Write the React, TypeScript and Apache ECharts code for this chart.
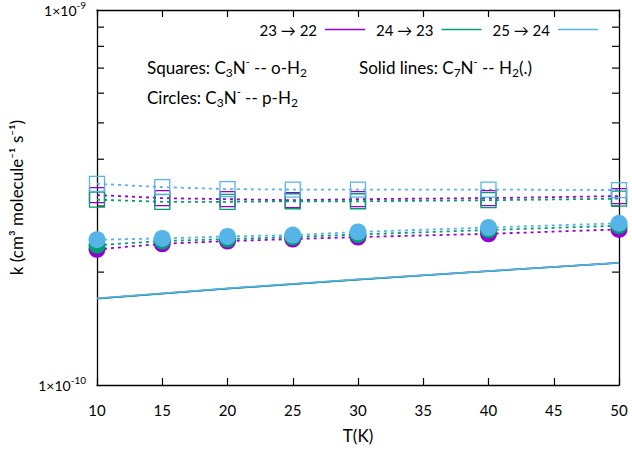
import { useEffect, useRef } from 'react';
import * as echarts from 'echarts';

// Temperatures (K) at which the rate coefficients are given
const temperatures = [10, 15, 20, 25, 30, 40, 50];
const transitions = ['23 → 22', '24 → 23', '25 → 24'];
const colors = ['#9400d3', '#009e73', '#56b4e9'];

// C7N- -- H2 (solid lines), cm3 molecule-1 s-1
const c7nH2_23_22 = [1.700e-10, 1.755e-10, 1.808e-10, 1.860e-10, 1.911e-10, 2.013e-10, 2.117e-10];
const c7nH2_24_23 = [1.697e-10, 1.752e-10, 1.805e-10, 1.857e-10, 1.908e-10, 2.010e-10, 2.114e-10];
const c7nH2_25_24 = [1.703e-10, 1.757e-10, 1.810e-10, 1.862e-10, 1.913e-10, 2.015e-10, 2.119e-10];

// C3N- -- o-H2 (squares)
const c3nOH2_23_22 = [3.21e-10, 3.15e-10, 3.13e-10, 3.11e-10, 3.13e-10, 3.15e-10, 3.19e-10];
const c3nOH2_24_23 = [3.12e-10, 3.08e-10, 3.08e-10, 3.09e-10, 3.09e-10, 3.11e-10, 3.14e-10];
const c3nOH2_25_24 = [3.44e-10, 3.37e-10, 3.33e-10, 3.32e-10, 3.32e-10, 3.32e-10, 3.31e-10];

// C3N- -- p-H2 (circles)
const c3nPH2_23_22 = [2.30e-10, 2.38e-10, 2.42e-10, 2.45e-10, 2.48e-10, 2.53e-10, 2.60e-10];
const c3nPH2_24_23 = [2.36e-10, 2.42e-10, 2.45e-10, 2.48e-10, 2.52e-10, 2.59e-10, 2.66e-10];
const c3nPH2_25_24 = [2.44e-10, 2.46e-10, 2.49e-10, 2.51e-10, 2.56e-10, 2.63e-10, 2.70e-10];

// Log-axis minor tick positions (2..9 x 1e-10)
const minorTickValues = [2e-10, 3e-10, 4e-10, 5e-10, 6e-10, 7e-10, 8e-10, 9e-10];

const solidSets = [c7nH2_23_22, c7nH2_24_23, c7nH2_25_24];
const squareSets = [c3nOH2_23_22, c3nOH2_24_23, c3nOH2_25_24];
const circleSets = [c3nPH2_23_22, c3nPH2_24_23, c3nPH2_25_24];

const FONT = 'Lato';

const pairs = (ys: number[]) => temperatures.map((t, i) => [t, ys[i]]);

const richText = {
  n: { fontFamily: FONT, fontSize: 17, lineHeight: 22, color: '#000' },
  sub: { fontFamily: FONT, fontSize: 12, lineHeight: 12, verticalAlign: 'bottom', color: '#000' },
  sup: { fontFamily: FONT, fontSize: 11, lineHeight: 12, verticalAlign: 'top', color: '#000' },
};

export default function App() {
  const ref = useRef<HTMLDivElement>(null);

  useEffect(() => {
    if (!ref.current) return;
    const chart = echarts.init(ref.current, null, { renderer: 'svg' });

    const series: any[] = [];
    for (let i = 0; i < 3; i++) {
      series.push({
        name: transitions[i],
        type: 'line',
        data: pairs(solidSets[i]),
        symbol: 'none',
        lineStyle: { color: colors[i], width: 1.5 },
        itemStyle: { color: colors[i] },
        emphasis: { disabled: true },
      });
      series.push({
        name: 'oH2 ' + transitions[i],
        type: 'line',
        data: pairs(squareSets[i]),
        symbol: 'rect',
        symbolSize: 15,
        lineStyle: { color: colors[i], width: 1.8, type: [3, 4] },
        itemStyle: { color: 'rgba(0,0,0,0)', borderColor: colors[i], borderWidth: 1.3 },
        emphasis: { disabled: true },
      });
      series.push({
        name: 'pH2 ' + transitions[i],
        type: 'line',
        data: pairs(circleSets[i]),
        symbol: 'circle',
        symbolSize: 17,
        lineStyle: { color: colors[i], width: 1.8, type: [3, 4] },
        itemStyle: { color: colors[i], borderWidth: 0 },
        emphasis: { disabled: true },
      });
    }

    const frame = { show: true, onZero: false, lineStyle: { color: '#000', width: 1.3 } };

    chart.setOption({
      animation: false,
      grid: { left: 97, right: 13, top: 10, bottom: 68, containLabel: false },
      legend: {
        data: transitions.map((name) => ({ name, icon: 'rect' })),
        right: 29,
        top: 17,
        align: 'right',
        itemWidth: 40,
        itemHeight: 1.5,
        itemGap: 11,
        selectedMode: false,
        textStyle: { fontFamily: FONT, fontSize: 15, color: '#000', padding: [0, 3, 0, 0] },
      },
      xAxis: [
        {
          type: 'value',
          min: 10,
          max: 50,
          interval: 5,
          name: 'T(K)',
          nameLocation: 'middle',
          nameGap: 42,
          nameTextStyle: { fontFamily: FONT, fontSize: 17, color: '#000' },
          axisLine: frame,
          axisTick: { inside: true, length: 7, lineStyle: { color: '#000', width: 1.2 } },
          axisLabel: { margin: 17, fontFamily: FONT, fontSize: 15, color: '#000' },
          splitLine: { show: false },
        },
        {
          type: 'value',
          position: 'top',
          min: 10,
          max: 50,
          interval: 5,
          axisLine: frame,
          axisTick: { inside: true, length: 7, lineStyle: { color: '#000', width: 1.2 } },
          axisLabel: { show: false },
          splitLine: { show: false },
        },
      ],
      yAxis: [
        {
          type: 'log',
          logBase: 10,
          min: 1e-10,
          max: 1e-9,
          name: 'k (cm³ molecule⁻¹ s⁻¹)',
          nameLocation: 'middle',
          nameGap: 72,
          nameTextStyle: { fontFamily: FONT, fontSize: 17, color: '#000' },
          axisLine: frame,
          axisTick: { show: false },
          splitLine: { show: false },
          axisLabel: {
            margin: 11,
            formatter: (v: number) =>
              v > 5e-10 ? '{a|1×10}{s|-9}' : '{a|1×10}{s|-10}',
            rich: {
              a: { fontFamily: FONT, fontSize: 14, lineHeight: 20, color: '#000' },
              s: { fontFamily: FONT, fontSize: 10, lineHeight: 10, verticalAlign: 'top', color: '#000' },
            },
          },
        },
        {
          type: 'log',
          logBase: 10,
          min: 1e-10,
          max: 1e-9,
          position: 'right',
          axisLine: frame,
          axisTick: { show: false },
          axisLabel: { show: false },
          splitLine: { show: false },
        },
      ],
      series,
    });

    // Inward minor ticks on both vertical sides of the frame
    const xl = chart.convertToPixel({ xAxisIndex: 0 }, 10) as number;
    const xr = chart.convertToPixel({ xAxisIndex: 0 }, 50) as number;
    const tickElems: any[] = [];
    minorTickValues.forEach((v) => {
      const y = chart.convertToPixel({ yAxisIndex: 0 }, v) as number;
      tickElems.push({ type: 'line', shape: { x1: xl, y1: y, x2: xl + 7, y2: y }, style: { stroke: '#000', lineWidth: 1.2 } });
      tickElems.push({ type: 'line', shape: { x1: xr - 7, y1: y, x2: xr, y2: y }, style: { stroke: '#000', lineWidth: 1.2 } });
    });

    chart.setOption({
      graphic: [
        ...tickElems,
        {
          type: 'text',
          left: 147,
          top: 56,
          style: { text: '{n|Squares: C}{sub|3}{n|N}{sup|-}{n| -- o-H}{sub|2}', rich: richText },
        },
        {
          type: 'text',
          left: 147,
          top: 86,
          style: { text: '{n|Circles: C}{sub|3}{n|N}{sup|-}{n| -- p-H}{sub|2}', rich: richText },
        },
        {
          type: 'text',
          left: 359,
          top: 56,
          style: { text: '{n|Solid lines: C}{sub|7}{n|N}{sup|-}{n| -- H}{sub|2}{n|(.)}', rich: richText },
        },
      ],
    });

    return () => chart.dispose();
  }, []);

  return (
    <div
      ref={ref}
      style={{ position: 'absolute', left: 0, top: 0, width: 632, height: 453, background: '#fff' }}
    />
  );
}
